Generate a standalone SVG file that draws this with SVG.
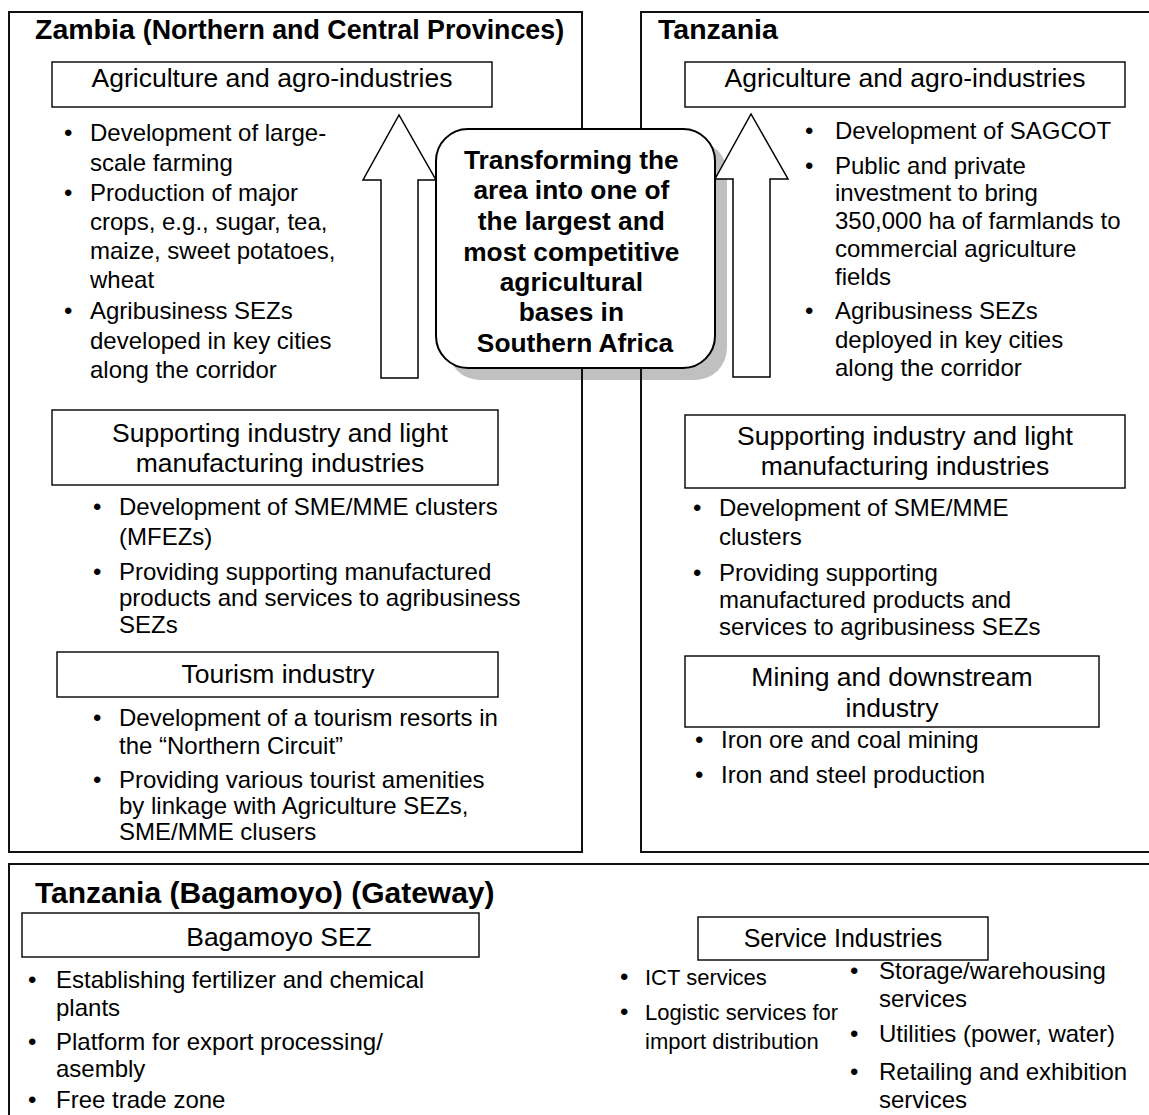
<svg xmlns="http://www.w3.org/2000/svg" width="1149" height="1115" viewBox="0 0 1149 1115">
  <style>
    text { font-family: "Liberation Sans", Arial, Helvetica, sans-serif; fill: #000; }
    .panel { fill: none; stroke: #111; stroke-width: 2; }
    .box { fill: #fff; stroke: #111; stroke-width: 1.5; }
    .arrow { fill: #fff; stroke: #000; stroke-width: 1.5; stroke-linejoin: miter; }
    .shadow { fill: #c0c0c0; }
    .core { fill: #fff; stroke: #000; stroke-width: 2; }
    .title { font-weight: bold; font-size: 28.5px; }
    .sub { font-size: 26.8px; }
    .big { font-size: 30px; }
    .head { font-size: 26.5px; text-anchor: middle; }
    .head-sm { font-size: 25px; text-anchor: middle; }
    .item { font-size: 24px; }
    .item-sm { font-size: 22px; }
    .core-text { font-weight: bold; font-size: 26.3px; text-anchor: middle; }
  </style>

  <!-- drop shadow of the central goal box -->
  <rect class="shadow" x="448" y="141" width="279" height="239" rx="32" ry="32"/>

  <!-- Zambia panel -->
  <g id="zambia">
    <rect class="panel" x="9" y="12" width="573" height="840"/>
    <text class="title" x="35" y="39">Zambia <tspan class="sub">(Northern and Central Provinces)</tspan></text>

    <g id="zambia-agri">
      <rect class="box" x="52" y="62" width="440" height="45"/>
      <text class="head" x="272" y="87">Agriculture and agro-industries</text>
      <text class="item">
        <tspan x="64" y="141">•</tspan><tspan x="90" y="141">Development of large-</tspan>
        <tspan x="90" y="171">scale farming</tspan>
        <tspan x="64" y="201">•</tspan><tspan x="90" y="201">Production of major</tspan>
        <tspan x="90" y="230">crops, e.g., sugar, tea,</tspan>
        <tspan x="90" y="259">maize, sweet potatoes,</tspan>
        <tspan x="90" y="288">wheat</tspan>
        <tspan x="64" y="319">•</tspan><tspan x="90" y="319">Agribusiness SEZs</tspan>
        <tspan x="90" y="349">developed in key cities</tspan>
        <tspan x="90" y="378">along the corridor</tspan>
      </text>
    </g>

    <g id="zambia-support">
      <rect class="box" x="52" y="410" width="446" height="75"/>
      <text class="head" x="280" y="442">Supporting industry and light</text>
      <text class="head" x="280" y="472">manufacturing industries</text>
      <text class="item">
        <tspan x="93" y="515">•</tspan><tspan x="119" y="515">Development of SME/MME clusters</tspan>
        <tspan x="119" y="545">(MFEZs)</tspan>
        <tspan x="93" y="580">•</tspan><tspan x="119" y="580">Providing supporting manufactured</tspan>
        <tspan x="119" y="606">products and services to agribusiness</tspan>
        <tspan x="119" y="633">SEZs</tspan>
      </text>
    </g>

    <g id="zambia-tourism">
      <rect class="box" x="57" y="652" width="441" height="45"/>
      <text class="head" x="278" y="683">Tourism industry</text>
      <text class="item">
        <tspan x="93" y="726">•</tspan><tspan x="119" y="726">Development of a tourism resorts in</tspan>
        <tspan x="119" y="754">the “Northern Circuit”</tspan>
        <tspan x="93" y="788">•</tspan><tspan x="119" y="788">Providing various tourist amenities</tspan>
        <tspan x="119" y="814">by linkage with Agriculture SEZs,</tspan>
        <tspan x="119" y="840">SME/MME clusers</tspan>
      </text>
    </g>
  </g>

  <!-- Tanzania panel -->
  <g id="tanzania">
    <rect class="panel" x="641" y="12" width="520" height="840"/>
    <text class="title" x="658" y="39">Tanzania</text>

    <g id="tanzania-agri">
      <rect class="box" x="685" y="62" width="440" height="45"/>
      <text class="head" x="905" y="87">Agriculture and agro-industries</text>
      <text class="item">
        <tspan x="805" y="139">•</tspan><tspan x="835" y="139">Development of SAGCOT</tspan>
        <tspan x="805" y="174">•</tspan><tspan x="835" y="174">Public and private</tspan>
        <tspan x="835" y="201">investment to bring</tspan>
        <tspan x="835" y="229">350,000 ha of farmlands to</tspan>
        <tspan x="835" y="257">commercial agriculture</tspan>
        <tspan x="835" y="285">fields</tspan>
        <tspan x="805" y="319">•</tspan><tspan x="835" y="319">Agribusiness SEZs</tspan>
        <tspan x="835" y="348">deployed in key cities</tspan>
        <tspan x="835" y="376">along the corridor</tspan>
      </text>
    </g>

    <g id="tanzania-support">
      <rect class="box" x="685" y="415" width="440" height="73"/>
      <text class="head" x="905" y="445">Supporting industry and light</text>
      <text class="head" x="905" y="475">manufacturing industries</text>
      <text class="item">
        <tspan x="693" y="516">•</tspan><tspan x="719" y="516">Development of SME/MME</tspan>
        <tspan x="719" y="545">clusters</tspan>
        <tspan x="693" y="581">•</tspan><tspan x="719" y="581">Providing supporting</tspan>
        <tspan x="719" y="608">manufactured products and</tspan>
        <tspan x="719" y="635">services to agribusiness SEZs</tspan>
      </text>
    </g>

    <g id="tanzania-mining">
      <rect class="box" x="685" y="656" width="414" height="71"/>
      <text class="head" x="892" y="686">Mining and downstream</text>
      <text class="head" x="892" y="717">industry</text>
      <text class="item">
        <tspan x="695" y="748">•</tspan><tspan x="721" y="748">Iron ore and coal mining</tspan>
        <tspan x="695" y="783">•</tspan><tspan x="721" y="783">Iron and steel production</tspan>
      </text>
    </g>
  </g>

  <!-- Gateway panel -->
  <g id="gateway">
    <rect class="panel" x="9" y="864" width="1150" height="270"/>
    <text class="title big" x="35" y="903">Tanzania (Bagamoyo) (Gateway)</text>

    <g id="bagamoyo-sez">
      <rect class="box" x="22" y="913" width="457" height="44"/>
      <text class="head" x="279" y="946">Bagamoyo SEZ</text>
      <text class="item">
        <tspan x="28" y="988">•</tspan><tspan x="56" y="988">Establishing fertilizer and chemical</tspan>
        <tspan x="56" y="1016">plants</tspan>
        <tspan x="28" y="1050">•</tspan><tspan x="56" y="1050">Platform for export processing/</tspan>
        <tspan x="56" y="1077">asembly</tspan>
        <tspan x="28" y="1108">•</tspan><tspan x="56" y="1108">Free trade zone</tspan>
      </text>
    </g>

    <g id="service-industries">
      <rect class="box" x="698" y="917" width="290" height="43"/>
      <text class="head-sm" x="843" y="947">Service Industries</text>
      <text class="item">
        <tspan x="620" y="985">•</tspan>
        <tspan x="620" y="1020">•</tspan>
      </text>
      <text class="item-sm">
        <tspan x="645" y="985">ICT services</tspan>
        <tspan x="645" y="1020">Logistic services for</tspan>
        <tspan x="645" y="1049">import distribution</tspan>
      </text>
      <text class="item">
        <tspan x="850" y="979">•</tspan><tspan x="879" y="979">Storage/warehousing</tspan>
        <tspan x="879" y="1007">services</tspan>
        <tspan x="850" y="1042">•</tspan><tspan x="879" y="1042">Utilities (power, water)</tspan>
        <tspan x="850" y="1080">•</tspan><tspan x="879" y="1080">Retailing and exhibition</tspan>
        <tspan x="879" y="1108">services</tspan>
      </text>
    </g>
  </g>

  <!-- upward arrows feeding the central goal -->
  <g id="connectors">
    <polygon class="arrow" points="381,378 381,180 363,180 399,115 436,180 418,180 418,378"/>
    <polygon class="arrow" points="733,377 733,179 715,179 751,114 788,179 770,179 770,377"/>
  </g>

  <!-- central goal -->
  <g id="goal">
    <rect class="core" x="436" y="129" width="279" height="239" rx="32" ry="32"/>
    <text class="core-text">
      <tspan x="575" y="169">Transforming the</tspan>
      <tspan x="575" y="199">area into one of</tspan>
      <tspan x="575" y="230">the largest and</tspan>
      <tspan x="575" y="261">most competitive</tspan>
      <tspan x="575" y="291">agricultural</tspan>
      <tspan x="575" y="321">bases in</tspan>
      <tspan x="575" y="352">Southern Africa</tspan>
    </text>
  </g>
</svg>
